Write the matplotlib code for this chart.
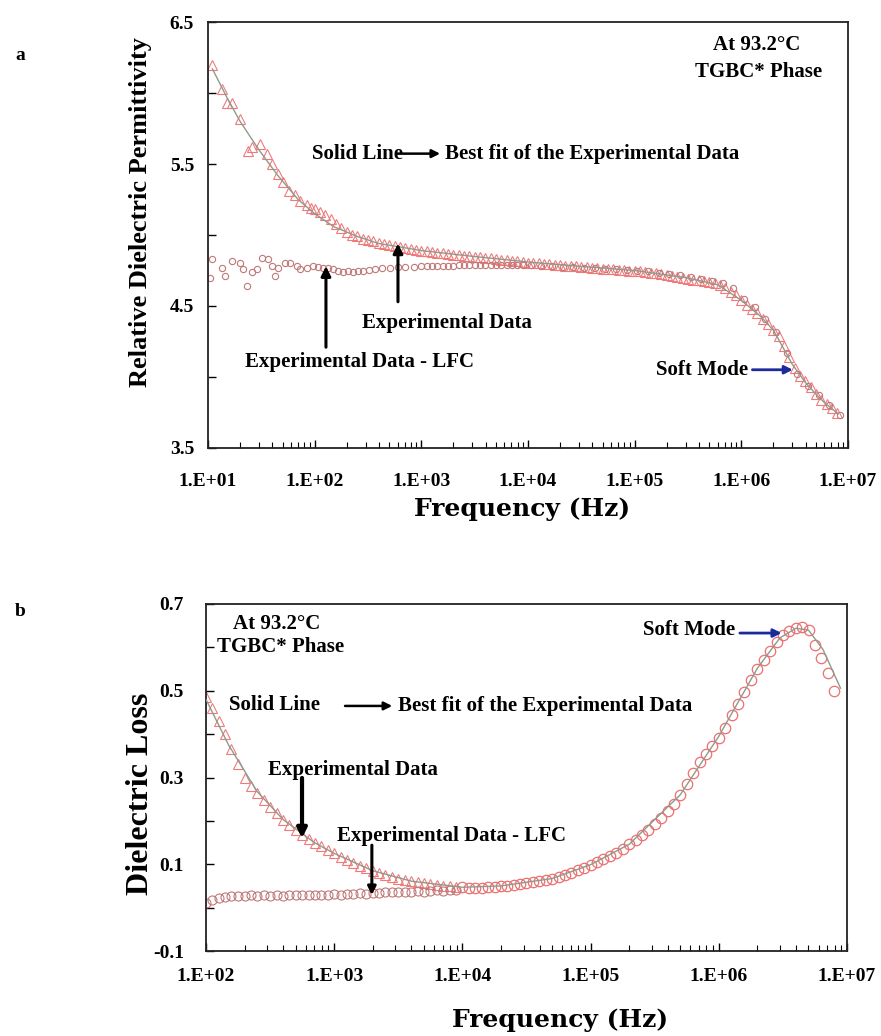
"""
Dielectric spectra in the TGBC* phase at 93.2 C:
(a) relative permittivity and (b) dielectric loss vs frequency.
"""

import matplotlib
matplotlib.use("Agg")
import matplotlib.pyplot as plt
from matplotlib.ticker import FixedLocator, FixedFormatter, LogLocator, NullFormatter

plt.rcParams["font.family"] = "Liberation Serif"
plt.rcParams["font.weight"] = "bold"

# --- Panel a: permittivity ---
freq_eps = [11, 13.5, 15, 16.8, 20, 23.7, 26, 30.7, 35.7, 40, 45, 51, 58, 65, 73, 84, 92,
            100, 112, 126, 141, 158, 178, 200, 224, 251, 282, 316, 355, 398, 447, 501,
            562, 631, 708, 794, 891,
            1000, 1120, 1260, 1410, 1580, 1780, 2000, 2240, 2510, 2820, 3160, 3550,
            3980, 4470, 5010, 5620, 6310, 7080, 7940, 8910,
            10000, 11200, 12600, 14100, 15800, 17800, 20000, 22400, 25100, 28200,
            31600, 35500, 39800, 44700, 50100, 56200, 63100, 70800, 79400, 89100,
            1.00e5, 1.12e5, 1.26e5, 1.41e5, 1.58e5, 1.78e5, 2.00e5, 2.24e5, 2.51e5,
            2.82e5, 3.16e5, 3.55e5, 3.98e5, 4.47e5, 5.01e5, 5.62e5, 6.31e5, 7.08e5,
            7.94e5, 8.91e5,
            1.00e6, 1.12e6, 1.26e6, 1.41e6, 1.58e6, 1.78e6, 2.00e6, 2.24e6, 2.51e6,
            2.82e6, 3.16e6, 3.55e6, 3.98e6, 4.47e6, 5.01e6, 5.62e6, 6.31e6, 7.08e6,
            7.94e6]
eps_exp = [6.20, 6.03, 5.93, 5.93, 5.82, 5.59, 5.62, 5.64, 5.57, 5.50, 5.43, 5.37, 5.31,
           5.28, 5.24, 5.21, 5.19,
           5.18, 5.16, 5.14, 5.11, 5.08, 5.05, 5.02, 5.00, 4.99, 4.975, 4.965, 4.955,
           4.945, 4.935, 4.93, 4.922, 4.915, 4.91, 4.90, 4.895,
           4.89, 4.885, 4.88, 4.875, 4.87, 4.865, 4.86, 4.858, 4.855, 4.85, 4.847,
           4.843, 4.84, 4.835, 4.83, 4.826, 4.822, 4.818, 4.814, 4.81,
           4.806, 4.803, 4.80, 4.797, 4.794, 4.791, 4.788, 4.785, 4.782, 4.779,
           4.776, 4.773, 4.77, 4.767, 4.764, 4.761, 4.758, 4.755, 4.752, 4.75,
           4.75, 4.745, 4.74, 4.735, 4.73, 4.725, 4.72, 4.713, 4.706, 4.70, 4.693,
           4.686, 4.68, 4.675, 4.67, 4.66, 4.645, 4.625, 4.60, 4.575,
           4.54, 4.51, 4.48, 4.45, 4.41, 4.37, 4.33, 4.29, 4.22, 4.14, 4.06, 4.01,
           3.97, 3.93, 3.88, 3.84, 3.81, 3.78, 3.75]

freq_eps_lfc = [10.4, 10.9, 13.5, 14.4, 16.8, 20, 21.3, 23.2, 25.8, 28.8, 32.1, 36.5,
                39.8, 42.4, 45.3, 52.7, 58.6, 68.3, 73, 85, 96, 108, 119, 133, 148,
                165, 184, 205, 228, 255, 283, 325, 366, 430, 506, 600, 700, 850,
                1000, 1120, 1260, 1410, 1580, 1780, 2000, 2240, 2510, 2820, 3160,
                3550, 3980, 4470, 5010, 5620, 6310, 7080, 7940, 8910,
                10600, 13300, 16800, 21100, 26600, 33500, 42200, 53100, 66800,
                84100, 1.06e5, 1.33e5, 1.68e5, 2.11e5, 2.66e5, 3.35e5, 4.22e5,
                5.31e5, 6.68e5, 8.41e5, 1.06e6, 1.33e6, 1.68e6, 2.11e6, 2.66e6,
                3.35e6, 4.22e6, 5.31e6, 6.68e6, 8.41e6]
eps_lfc = [4.70, 4.83, 4.77, 4.71, 4.82, 4.80, 4.76, 4.64, 4.74, 4.76, 4.84, 4.83,
           4.78, 4.71, 4.77, 4.80, 4.80, 4.78, 4.76, 4.77, 4.78, 4.775, 4.77, 4.765,
           4.76, 4.75, 4.74, 4.745, 4.74, 4.745, 4.75, 4.755, 4.76, 4.765, 4.77,
           4.772, 4.775, 4.778,
           4.78, 4.78, 4.781, 4.782, 4.783, 4.784, 4.785, 4.786, 4.787, 4.788,
           4.789, 4.79, 4.79, 4.79, 4.79, 4.79, 4.79, 4.79, 4.79, 4.789,
           4.787, 4.785, 4.782, 4.778, 4.775, 4.771, 4.767, 4.763, 4.759,
           4.755, 4.749, 4.743, 4.735, 4.726, 4.716, 4.705, 4.692, 4.678,
           4.66, 4.63, 4.55, 4.49, 4.41, 4.32, 4.17, 4.02, 3.94, 3.87, 3.80, 3.73]

freq_eps_fit = [11, 15, 20, 30, 45, 70, 100, 150, 250, 400, 700, 1000, 3000, 10000,
                30000, 1e5, 3e5, 6e5, 1e6, 1.5e6, 2e6, 3e6, 4e6, 5e6, 6e6, 8.1e6]
eps_fit = [6.17, 5.97, 5.80, 5.60, 5.42, 5.25, 5.15, 5.06, 4.99, 4.94, 4.91, 4.89,
           4.85, 4.81, 4.78, 4.75, 4.70, 4.65, 4.54, 4.43, 4.33, 4.09, 3.96, 3.88,
           3.82, 3.74]

# --- Panel b: dielectric loss ---
freq_loss = [100, 112, 126, 141, 158, 178, 200, 224, 251, 282, 316, 355, 398, 447,
             501, 562, 631, 708, 794, 891,
             1000, 1120, 1260, 1410, 1580, 1780, 2000, 2240, 2510, 2820, 3160, 3550,
             3980, 4470, 5010, 5620, 6310, 7080, 7940, 8910]
loss_exp = [0.486, 0.46, 0.43, 0.40, 0.365, 0.33, 0.30, 0.28, 0.264, 0.247, 0.232,
            0.218, 0.203, 0.19, 0.178, 0.168, 0.158, 0.15, 0.143, 0.133,
            0.125, 0.117, 0.110, 0.103, 0.097, 0.091, 0.085, 0.080, 0.075, 0.071,
            0.067, 0.064, 0.062, 0.060, 0.057, 0.055, 0.053, 0.051, 0.050, 0.048]

freq_loss_hi = [10000, 11200, 12600, 14100, 15800, 17800, 20000, 22400, 25100, 28200,
                31600, 35500, 39800, 44700, 50100, 56200, 63100, 70800, 79400, 89100,
                1.00e5, 1.12e5, 1.26e5, 1.41e5, 1.58e5, 1.78e5, 2.00e5, 2.24e5,
                2.51e5, 2.82e5, 3.16e5, 3.55e5, 3.98e5, 4.47e5, 5.01e5, 5.62e5,
                6.31e5, 7.08e5, 7.94e5, 8.91e5,
                1.00e6, 1.12e6, 1.26e6, 1.41e6, 1.58e6, 1.78e6, 2.00e6, 2.24e6,
                2.51e6, 2.82e6, 3.16e6, 3.55e6, 3.98e6, 4.47e6, 5.01e6, 5.62e6,
                6.31e6, 7.08e6, 7.94e6]
loss_hi = [0.047, 0.046, 0.046, 0.046, 0.047, 0.048, 0.049, 0.050, 0.052, 0.054,
           0.056, 0.058, 0.061, 0.064, 0.067, 0.071, 0.075, 0.080, 0.086, 0.092,
           0.099, 0.105, 0.112, 0.119, 0.127, 0.136, 0.146, 0.157, 0.168, 0.180,
           0.193, 0.207, 0.222, 0.240, 0.260, 0.285, 0.310, 0.335, 0.355, 0.372,
           0.392, 0.415, 0.443, 0.470, 0.497, 0.525, 0.550, 0.572, 0.592, 0.612,
           0.628, 0.638, 0.645, 0.646, 0.640, 0.605, 0.575, 0.540, 0.500]

freq_loss_lfc = [100, 112, 126, 141, 158, 178, 200, 224, 251, 282, 316, 355, 398, 447,
                 501, 562, 631, 708, 794, 891,
                 1000, 1120, 1260, 1410, 1580, 1780, 2000, 2240, 2510, 2820, 3160,
                 3550, 3980, 4470, 5010, 5620, 6310, 7080, 7940, 8910]
loss_lfc = [0.011, 0.018, 0.022, 0.025, 0.027, 0.026, 0.027, 0.028, 0.026, 0.028,
            0.027, 0.029, 0.027, 0.028, 0.029, 0.028, 0.030, 0.029, 0.028, 0.030,
            0.031, 0.030, 0.032, 0.031, 0.033, 0.032, 0.034, 0.033, 0.035, 0.036,
            0.035, 0.037, 0.036, 0.038, 0.037, 0.039, 0.040, 0.039, 0.041, 0.041]

freq_loss_fit = [100, 150, 250, 400, 700, 1000, 2000, 4000, 10000, 20000, 50000,
                 1e5, 2e5, 5e5, 1e6, 2e6, 3e6, 4e6, 5e6, 6.5e6, 8.9e6]
loss_fit = [0.480, 0.375, 0.268, 0.203, 0.150, 0.125, 0.085, 0.061, 0.047, 0.050,
            0.067, 0.099, 0.146, 0.260, 0.395, 0.552, 0.622, 0.644, 0.640, 0.595,
            0.506]

xticks_a = [1e1, 1e2, 1e3, 1e4, 1e5, 1e6, 1e7]
xlabels_a = ["1.E+01", "1.E+02", "1.E+03", "1.E+04", "1.E+05", "1.E+06", "1.E+07"]
xticks_b = [1e2, 1e3, 1e4, 1e5, 1e6, 1e7]
xlabels_b = ["1.E+02", "1.E+03", "1.E+04", "1.E+05", "1.E+06", "1.E+07"]
yticks_a = [3.5, 4.0, 4.5, 5.0, 5.5, 6.0, 6.5]
ylabels_a = ["3.5", "", "4.5", "", "5.5", "", "6.5"]
yticks_b = [-0.1, 0.0, 0.1, 0.2, 0.3, 0.4, 0.5, 0.6, 0.7]
ylabels_b = ["-0.1", "", "0.1", "", "0.3", "", "0.5", "", "0.7"]

TRI = "#f07a7a"
LFC = "#c07878"
HI = "#ec7070"
FIT = "#8f9a8f"
BLUE = "#1c2a9c"
W, H = 881, 1036

fig = plt.figure(figsize=(W / 100, H / 100), dpi=100)
ax1 = fig.add_axes([208 / W, 1 - 448 / H, 640 / W, 426 / H])
ax2 = fig.add_axes([206 / W, 1 - 951 / H, 641 / W, 347 / H])


def style_axis(ax, xt, xl, yt, yl, xpad, ypad):
    ax.set_xscale("log")
    ax.xaxis.set_major_locator(FixedLocator(xt))
    ax.xaxis.set_major_formatter(FixedFormatter(xl))
    ax.xaxis.set_minor_locator(LogLocator(base=10, subs=range(2, 10), numticks=20))
    ax.xaxis.set_minor_formatter(NullFormatter())
    ax.yaxis.set_major_locator(FixedLocator(yt))
    ax.yaxis.set_major_formatter(FixedFormatter(yl))
    ax.tick_params(axis="both", which="major", direction="in", length=6, width=1.0,
                   labelsize=14, top=False, right=False)
    ax.tick_params(axis="x", which="minor", direction="in", length=4, width=0.8,
                   top=False)
    ax.tick_params(axis="x", which="major", pad=xpad)
    ax.tick_params(axis="y", which="major", pad=ypad)
    for s in ax.spines.values():
        s.set_linewidth(1.3)
        s.set_color("#222222")


def arrow(ax, tip, tail, color="black", lw=2.2, ms=14):
    ax.annotate("", xy=tip, xytext=tail,
                arrowprops=dict(arrowstyle="-|>", color=color, lw=lw,
                                mutation_scale=ms, shrinkA=0, shrinkB=0))


# ---------------- panel a ----------------
ax1.plot(freq_eps_fit, eps_fit, color=FIT, lw=1.0, zorder=3)
ax1.plot(freq_eps, eps_exp, ls="none", marker="^", ms=7.5, mfc="none", mec=TRI,
         mew=0.8, zorder=2)
ax1.plot(freq_eps_lfc, eps_lfc, ls="none", marker="o", ms=4.5, mfc="none", mec=LFC,
         mew=0.8, zorder=2)
ax1.set_xlim(1e1, 1e7)
ax1.set_ylim(3.5, 6.5)
style_axis(ax1, xticks_a, xlabels_a, yticks_a, ylabels_a, 18, 10)

kw = dict(fontsize=15, fontweight="bold")
ax1.text(0.857, 0.946, "At 93.2°C", transform=ax1.transAxes, ha="center",
         va="center", **kw)
ax1.text(0.860, 0.883, "TGBC* Phase", transform=ax1.transAxes, ha="center",
         va="center", **kw)
ax1.text(250, 5.573, "Solid Line", ha="center", va="center", **kw)
arrow(ax1, (1500, 5.573), (590, 5.573), lw=1.8, ms=12)
ax1.text(1650, 5.573, "Best fit of the Experimental Data", ha="left", va="center",
         **kw)
arrow(ax1, (604, 4.94), (604, 4.53))
ax1.text(1740, 4.377, "Experimental Data", ha="center", va="center", **kw)
arrow(ax1, (127.6, 4.78), (127.6, 4.21))
ax1.text(266, 4.108, "Experimental Data - LFC", ha="center", va="center", **kw)
ax1.text(1.15e6, 4.051, "Soft Mode", ha="right", va="center", **kw)
arrow(ax1, (3.04e6, 4.051), (1.27e6, 4.051), color=BLUE, lw=2.0, ms=12)

# ---------------- panel b ----------------
ax2.plot(freq_loss_fit, loss_fit, color=FIT, lw=1.0, zorder=3)
ax2.plot(freq_loss, loss_exp, ls="none", marker="^", ms=7, mfc="none", mec=TRI,
         mew=0.8, zorder=2)
ax2.plot(freq_loss_lfc, loss_lfc, ls="none", marker="o", ms=6.5, mfc="none", mec=LFC,
         mew=0.8, zorder=2)
ax2.plot(freq_loss_hi, loss_hi, ls="none", marker="o", ms=7.5, mfc="none", mec=HI,
         mew=0.9, zorder=2)
ax2.set_xlim(1e2, 1e7)
ax2.set_ylim(-0.1, 0.7)
style_axis(ax2, xticks_b, xlabels_b, yticks_b, ylabels_b, 12, 16)

ax2.text(358, 0.654, "At 93.2°C", ha="center", va="center", **kw)
ax2.text(385, 0.601, "TGBC* Phase", ha="center", va="center", **kw)
ax2.text(345, 0.467, "Solid Line", ha="center", va="center", **kw)
arrow(ax2, (2835, 0.465), (1215, 0.465), lw=1.8, ms=12)
ax2.text(3140, 0.465, "Best fit of the Experimental Data", ha="left",
         va="center", **kw)
ax2.text(1402, 0.317, "Experimental Data", ha="center", va="center", **kw)
arrow(ax2, (561, 0.160), (561, 0.299), lw=3.0, ms=14)
ax2.text(8270, 0.165, "Experimental Data - LFC", ha="center", va="center", **kw)
arrow(ax2, (1967, 0.029), (1967, 0.144), lw=2.2, ms=12)
ax2.text(1.33e6, 0.640, "Soft Mode", ha="right", va="center", **kw)
arrow(ax2, (3.09e6, 0.633), (1.46e6, 0.633), color=BLUE, lw=2.0, ms=12)

# ---------------- labels ----------------
fig.text(15 / W, 1 - 55 / H, "a", fontsize=14, fontweight="bold", va="center")
fig.text(15 / W, 1 - 612 / H, "b", fontsize=14, fontweight="bold", va="center")
fig.text(140 / W, 1 - 212 / H, "Relative Dielectric Permittivity", rotation=90,
         ha="center", va="center", fontsize=19, fontweight="bold")
fig.text(140 / W, 1 - 794 / H, "Dielectric Loss", rotation=90, ha="center",
         va="center", fontsize=23, fontweight="bold")
fig.text(522 / W, 1 - 509 / H, "Frequency (Hz)", ha="center", va="center",
         fontsize=18, fontweight="bold", family="DejaVu Serif")
fig.text(560 / W, 1 - 1020 / H, "Frequency (Hz)", ha="center", va="center",
         fontsize=18, fontweight="bold", family="DejaVu Serif")

fig.savefig("out.png", dpi=100)
